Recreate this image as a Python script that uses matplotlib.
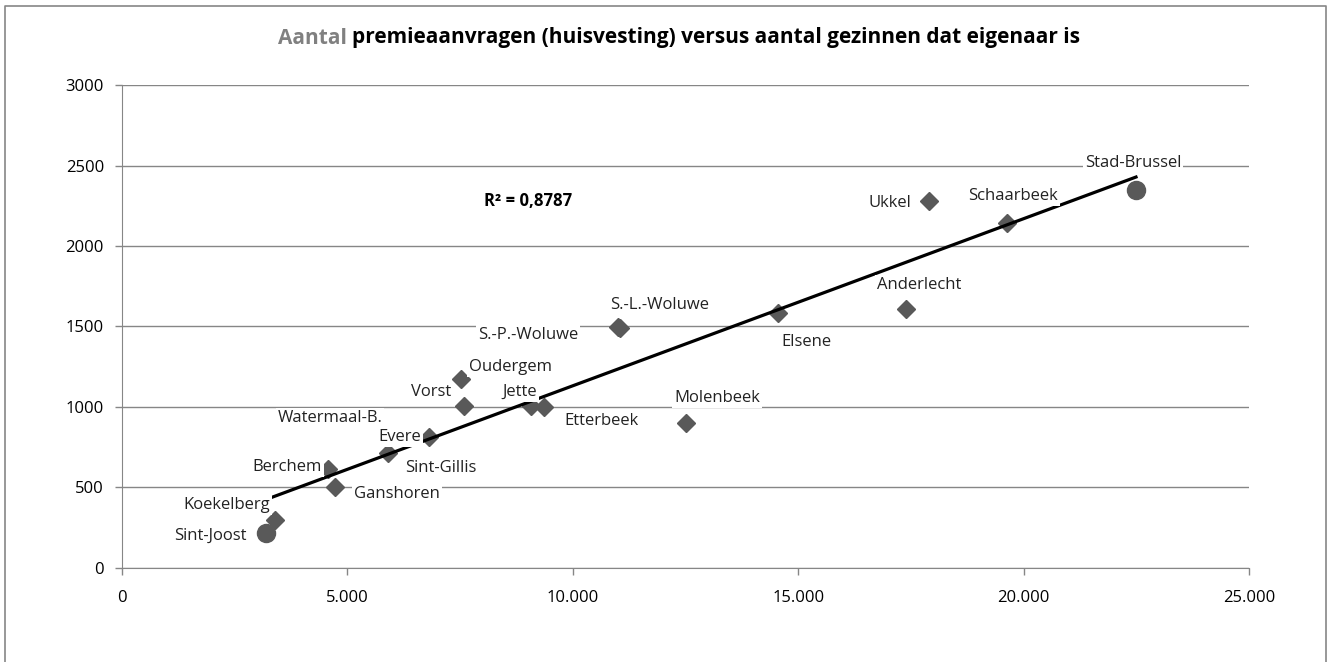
import numpy as np
import matplotlib
matplotlib.use("Agg")
import matplotlib.pyplot as plt
from matplotlib.lines import Line2D

plt.rcParams["font.family"] = ["Open Sans", "DejaVu Sans"]

# gemeenten, aantal gezinnen eigenaar (x) en premieaanvragen (y)
gemeenten = ["Sint-Joost", "Koekelberg", "Berchem", "Ganshoren", "Sint-Gillis",
             "Evere", "Watermaal-B.", "Vorst", "Oudergem", "Jette", "Etterbeek",
             "S.-P.-Woluwe", "S.-L.-Woluwe", "Elsene", "Molenbeek", "Anderlecht",
             "Ukkel", "Schaarbeek", "Stad-Brussel"]
eigenaars = [3194, 3394, 4570, 4725, 5900, 6810, 6211, 7587, 7520, 9073, 9360,
             11047, 11000, 14552, 12511, 17391, 17900, 19632, 22493]
aanvragen = [217, 298, 615, 503, 714, 813, 814, 1006, 1174, 1006, 1000,
             1491, 1495, 1584, 901, 1609, 2280, 2143, 2348]
cirkel = ["Sint-Joost", "Stad-Brussel"]

# label verschuiving in pixels (dx, dy naar beneden)
label_offset = [(-56, 3), (-48, -15), (-41, -2), (62, 7), (53, 15), (-29, 0),
                (-72, -19), (-33, -14), (49, -12), (-11, -14), (58, 14),
                (-92, 7), (42, -22), (28, 29), (31, -25), (13, -24),
                (-39, 2), (6, -27), (-3, -27)]

x = np.array(eigenaars, dtype=float)
y = np.array(aanvragen, dtype=float)

fig = plt.figure(figsize=(13.31, 6.62), dpi=100)
ax = fig.add_axes([0.0917, 0.142, 0.8467, 0.7296])

grijs = "#868686"
punt = "#595959"

for g, xi, yi in zip(gemeenten, x, y):
    if g in cirkel:
        ax.plot(xi, yi, "o", ms=13, color=punt, zorder=3)
    else:
        ax.plot(xi, yi, "D", ms=9.5, color=punt, zorder=3)

# lineaire trendlijn
a, b = np.polyfit(x, y, 1)
xs = np.array([x.min(), x.max()])
ax.plot(xs, a * xs + b, color="black", lw=2.3, zorder=4)

for g, xi, yi, (dx, dy) in zip(gemeenten, x, y, label_offset):
    ax.annotate(g, (xi, yi), xytext=(dx * 0.72, -dy * 0.72), textcoords="offset points",
                ha="center", va="center", fontsize=12, color="#222222", zorder=5,
                bbox=dict(boxstyle="square,pad=0.12", fc="white", ec="none"))

ax.text(9000, 2280, "R² = 0,8787", fontsize=12, fontweight="bold",
        ha="center", va="center", zorder=5)

ax.set_xlim(0, 25000)
ax.set_ylim(0, 3000)
ax.set_xticks(np.arange(0, 25001, 5000))
ax.set_xticklabels(["0", "5.000", "10.000", "15.000", "20.000", "25.000"])
ax.set_yticks(np.arange(0, 3001, 500))
ax.grid(axis="y", color=grijs, lw=1)
ax.set_axisbelow(True)
for s in ["top", "right"]:
    ax.spines[s].set_visible(False)
for s in ["left", "bottom"]:
    ax.spines[s].set_color(grijs)
ax.tick_params(colors=grijs, labelcolor="black", labelsize=12, length=5, width=1)
ax.tick_params(axis="x", pad=11)
ax.tick_params(axis="y", pad=8)

# titel met grijs "Aantal"
fig.canvas.draw()
r = fig.canvas.get_renderer()
t1 = fig.text(0, 0, "Aantal ", fontsize=15, fontweight="bold", color="#808080")
t2 = fig.text(0, 0, "premieaanvragen (huisvesting) versus aantal gezinnen dat eigenaar is",
              fontsize=15, fontweight="bold", color="black")
w1 = t1.get_window_extent(r).width / fig.bbox.width
w2 = t2.get_window_extent(r).width / fig.bbox.width
x0 = 0.5 - (w1 + w2) / 2 + 0.01
ty = 1 - 38 / 662
t1.set_position((x0, ty))
t2.set_position((x0 + w1, ty))
t1.set_va("center")
t2.set_va("center")

# kaderlijn rond de grafiek
kader = Line2D([5 / 1331, 5 / 1331, 1326 / 1331, 1326 / 1331],
               [-0.1, 1 - 6 / 662, 1 - 6 / 662, -0.1],
               transform=fig.transFigure, color=grijs, lw=1.2)
fig.add_artist(kader)

fig.savefig("out.png", dpi=100)
